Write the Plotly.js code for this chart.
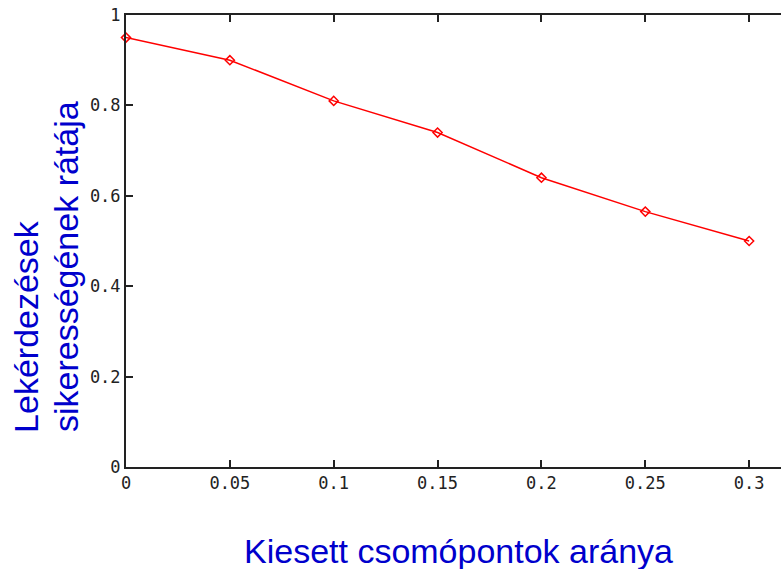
<!DOCTYPE html>
<html>
<head>
<meta charset="utf-8">
<script src="https://cdn.plot.ly/plotly-3.0.1.min.js"></script>
<style>
html, body { margin: 0; padding: 0; overflow: hidden; background: #fff; }
#chart { width: 870px; height: 569px; }
</style>
</head>
<body>
<div id="chart"></div>
<script>
const failedRatio = [0, 0.05, 0.1, 0.15, 0.2, 0.25, 0.3];
const successRate = [0.95, 0.90, 0.81, 0.74, 0.64, 0.565, 0.50];
const xTickVals = [0, 0.05, 0.1, 0.15, 0.2, 0.25, 0.3];
const xTickText = ['0', '0.05', '0.1', '0.15', '0.2', '0.25', '0.3'];
const yTickVals = [0, 0.2, 0.4, 0.6, 0.8, 1];
const yTickText = ['0', '0.2', '0.4', '0.6', '0.8', '1'];
const xTitle = 'Kiesett csomópontok aránya';
const yTitleLines = ['Lekérdezések', 'sikerességének rátája'];

const titleColor = '#0000cc';
const titleFont = { family: 'Liberation Sans, Arial, sans-serif', size: 34, color: titleColor };
const tickFontFamily = 'DejaVu Sans Mono, Liberation Mono, monospace';

const trace = {
  x: failedRatio,
  y: successRate,
  type: 'scatter',
  mode: 'lines+markers',
  line: { color: '#ff0000', width: 1.5 },
  marker: { symbol: 'diamond-open', size: 7, color: '#ff0000', line: { color: '#ff0000', width: 1.5 } },
  cliponaxis: false,
  showlegend: false
};

const layout = {
  width: 870,
  height: 569,
  margin: { l: 126, r: 17, t: 15, b: 102 },
  paper_bgcolor: '#ffffff',
  plot_bgcolor: '#ffffff',
  xaxis: {
    range: [0, 0.35],
    tickmode: 'array',
    tickvals: xTickVals,
    ticktext: xTickText,
    ticks: 'inside',
    ticklen: 7,
    tickwidth: 2,
    tickcolor: '#222222',
    showline: true,
    linecolor: '#222222',
    linewidth: 2,
    mirror: 'allticks',
    showgrid: false,
    zeroline: false,
    tickfont: { family: tickFontFamily, size: 17, color: '#222222' },
    automargin: false
  },
  yaxis: {
    range: [0, 1],
    tickmode: 'array',
    tickvals: yTickVals,
    ticktext: yTickText,
    ticksuffix: '\u2002',
    ticks: 'inside',
    ticklen: 7,
    tickwidth: 2,
    tickcolor: '#222222',
    showline: true,
    linecolor: '#222222',
    linewidth: 2,
    mirror: 'allticks',
    showgrid: false,
    zeroline: false,
    tickfont: { family: tickFontFamily, size: 17, color: '#222222' },
    automargin: false
  },
  annotations: [
    {
      text: xTitle,
      xref: 'paper', yref: 'paper',
      x: 0.458, y: -0.186,
      xanchor: 'center', yanchor: 'middle',
      showarrow: false,
      font: titleFont
    },
    {
      text: yTitleLines[0],
      xref: 'paper', yref: 'paper',
      x: -0.1376, y: 0.072,
      xanchor: 'center', yanchor: 'bottom',
      textangle: -90,
      showarrow: false,
      font: titleFont
    },
    {
      text: yTitleLines[1],
      xref: 'paper', yref: 'paper',
      x: -0.0824, y: 0.072,
      xanchor: 'center', yanchor: 'bottom',
      textangle: -90,
      showarrow: false,
      font: titleFont
    }
  ]
};

Plotly.newPlot('chart', [trace], layout, { displayModeBar: false, staticPlot: true });
</script>
</body>
</html>
